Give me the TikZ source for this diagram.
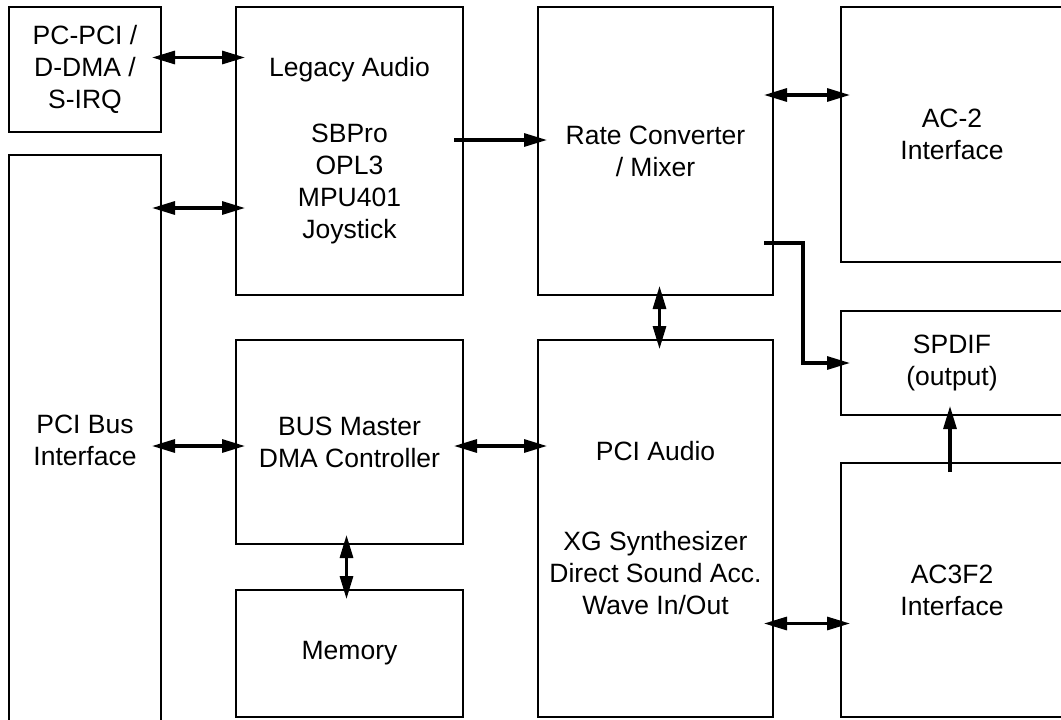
\documentclass[tikz,border=0pt]{standalone}
\usepackage{fontspec}
\setmainfont{Liberation Sans}
\usepackage{tikz}
\usetikzlibrary{arrows.meta, positioning}
\tikzset{
  box/.style={rectangle, draw=black, line width=2.7pt, outer sep=0pt,
    align=center, font=\fontsize{26.5}{32}\selectfont},
  arrow/.style={-{Triangle[length=23pt, width=13pt]}, line width=3.1pt,
    shorten <=-9pt, shorten >=-9pt},
  dblarrow/.style={{Triangle[length=23pt, width=13pt]}-{Triangle[length=23pt, width=13pt]},
    line width=3.1pt, shorten <=-9pt, shorten >=-9pt}
}

\begin{document}
\begin{tikzpicture}
    \useasboundingbox (0pt,0pt) rectangle (1061pt,-720pt);
    % left column
    \node[box, minimum width=152pt, minimum height=125pt, anchor=north west]
      (pcpci) at (9pt,-7pt) {PC-PCI /\\D-DMA /\\S-IRQ};
    \node[box, minimum width=152pt, minimum height=570pt, below=23pt of pcpci]
      (pcibus) {PCI Bus\\Interface};
    % middle columns
    \node[box, minimum width=227pt, minimum height=288pt,
      right=75pt of pcpci.north east, anchor=north west] (legacy)
      {Legacy Audio\\[34pt]SBPro\\OPL3\\MPU401\\Joystick};
    \node[box, minimum width=227pt, minimum height=204pt, below=45pt of legacy]
      (busmaster) {BUS Master\\DMA Controller};
    \node[box, minimum width=227pt, minimum height=127pt, below=46pt of busmaster]
      (memory) {Memory};
    \node[box, minimum width=235pt, minimum height=288pt, right=75pt of legacy]
      (rateconv) {Rate Converter\\/ Mixer};
    \node[box, minimum width=235pt, minimum height=377pt, below=45pt of rateconv]
      (pciaudio)
      {PCI Audio\\[58pt]XG Synthesizer\\Direct Sound Acc.\\Wave In/Out};
    % right column
    \node[box, minimum width=222pt, minimum height=255pt,
      right=68pt of rateconv.north east, anchor=north west] (actwo)
      {AC-2\\Interface};
    \node[box, minimum width=222pt, minimum height=104pt, below=49pt of actwo]
      (spdif) {SPDIF\\(output)};
    \node[box, minimum width=222pt, minimum height=254pt, below=48pt of spdif]
      (acthree) {AC3F2\\Interface};
    % connectors
    \draw[dblarrow] ([yshift=12pt]pcpci.east) -- ([yshift=12pt]pcpci.east -| legacy.west);
    \draw[dblarrow] ([yshift=-57pt]pcibus.east |- legacy.west) -- ([yshift=-57pt]legacy.west);
    \draw[arrow] ([yshift=11pt]legacy.east) -- ([yshift=11pt]rateconv.west);
    \draw[dblarrow] ([yshift=-4pt]pcibus.east |- busmaster.west) -- ([yshift=-4pt]busmaster.west);
    \draw[dblarrow] ([xshift=-3pt]busmaster.south) -- ([xshift=-3pt]memory.north);
    \draw[dblarrow] ([yshift=-4pt]busmaster.east) -- ([yshift=-4pt]busmaster.east -| pciaudio.west);
    \draw[dblarrow] ([xshift=4pt]rateconv.south) -- ([xshift=4pt]pciaudio.north);
    \draw[dblarrow] ([yshift=56pt]rateconv.east) -- ([yshift=56pt]rateconv.east -| actwo.west);
    \draw[arrow] ([yshift=-92pt]rateconv.east) -- ++(30pt,0) |- (spdif.west);
    \draw[dblarrow] ([yshift=-95pt]pciaudio.east) -- ([yshift=-95pt]pciaudio.east -| acthree.west);
    \draw[arrow] ([xshift=-2pt]acthree.north) -- ([xshift=-2pt]spdif.south);
\end{tikzpicture}
\end{document}
